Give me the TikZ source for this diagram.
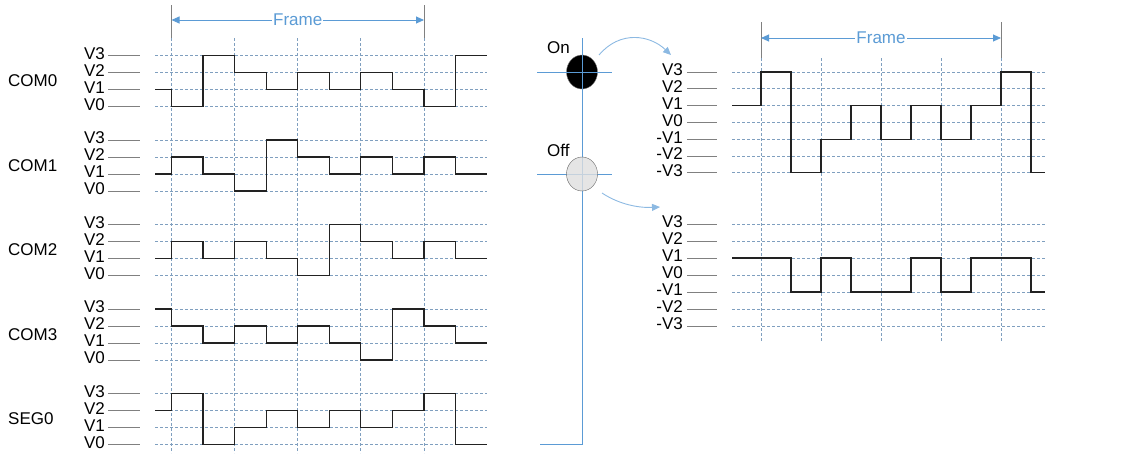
\documentclass[tikz,border=0pt]{standalone}
\usepackage{fontspec}
\setmainfont{Liberation Sans}
\usetikzlibrary{arrows.meta,shapes.geometric}
\definecolor{gridc}{HTML}{7F9FBF}
\definecolor{bluel}{HTML}{5B9BD5}
\definecolor{wavec}{HTML}{222222}
\tikzset{
  grid/.style={gridc,dash pattern=on 3pt off 2pt,line width=0.7pt},
  tick/.style={gray,line width=0.9pt},
  wave/.style={wavec,line width=1.3pt,line join=miter},
  lvl/.style={anchor=east,inner sep=0pt,font=\fontsize{17}{17}\selectfont},
  big/.style={anchor=west,inner sep=0pt,font=\fontsize{17}{17}\selectfont},
  frm/.style={bluel,line width=0.9pt,{Triangle[length=8pt,width=7pt]}-{Triangle[length=8pt,width=7pt]}},
  vline/.style={gray,line width=0.8pt}
}
\begin{document}
\begin{tikzpicture}[x=1pt,y=-1pt]
\useasboundingbox (0,0) rectangle (1121,453);
% left verticals
\foreach \k in {0,...,4}{\draw[grid] ({171.5+\k*63.1},38) -- ({171.5+\k*63.1},453);}
\draw[vline] (171.5,5) -- (171.5,38);
\draw[vline] (424,5) -- (424,38);
\draw[frm] (171.5,20) -- node[fill=white,inner sep=1pt,font=\fontsize{17}{17}\selectfont] (fl) {Frame} (424,20);
% left groups
\foreach \name/\b/\f/\lst in {COM0/55.5/2/{2,3,0,1,2,1,2,1,2,3,0},COM1/140/2/{2,1,2,3,0,1,2,1,2,1,2},COM2/224.5/2/{2,1,2,1,2,3,0,1,2,1,2},COM3/309/0/{0,1,2,1,2,1,2,3,0,1,2},SEG0/393.5/1/{1,0,3,2,1,2,1,2,1,0,3}}{
  \node[big] (n\name) at (8,{\b+25.5}) {\name};
  \foreach \l/\t in {0/V3,1/V2,2/V1,3/V0}{
    \node[lvl] (n\name\t) at (105,{\b+17*\l-2}) {\t};
    \draw[tick] (108,{\b+17*\l}) -- (140,{\b+17*\l});
    \draw[grid] (155,{\b+17*\l}) -- (487,{\b+17*\l});
  }
  \draw[wave] (155,{\b+17*\f}) foreach \l [count=\i] in \lst {
    -- ({\i==1 ? 155 : 171.5+(\i-2)*31.55},{\b+17*\l}) -- ({\i==11 ? 487 : 171.5+(\i-1)*31.55},{\b+17*\l}) };
}
% middle
\draw[bluel,line width=0.9pt] (582,38) -- (582,444) -- (540,444);
\draw[bluel,line width=0.9pt] (537,72) -- (612,72);
\draw[bluel,line width=0.9pt] (537,174) -- (612,174);
\node[draw=gray,fill=black,ellipse,minimum width=31pt,minimum height=34pt,inner sep=0pt] (on) at (582,72) {};
\draw[bluel,line width=0.9pt] (566,72) -- (598,72) (582,55) -- (582,89);
\node[draw=gray!80!black,fill=gray!25,ellipse,minimum width=31pt,minimum height=34pt,inner sep=0pt,fill opacity=0.8] (off) at (582,174) {};
\node[big] (ton) at (547,48) {On};
\node[big] (toff) at (547,150) {Off};
\draw[bluel!70,line width=0.9pt,-{Triangle[length=8pt,width=7pt]}] (599,55) .. controls (620,30) and (650,35) .. (671,55);
\draw[bluel!70,line width=0.9pt,-{Triangle[length=8pt,width=7pt]}] (602,193) .. controls (620,205) and (640,208) .. (660,207);
% right verticals
\foreach \k in {0,...,4}{\draw[grid] ({761+\k*60},58) -- ({761+\k*60},342);}
\draw[vline] (761,22) -- (761,58);
\draw[vline] (1001,22) -- (1001,58);
\draw[frm] (761,38) -- node[fill=white,inner sep=1pt,font=\fontsize{17}{17}\selectfont] (fr) {Frame} (1001,38);
\foreach \g/\b/\s/\lst in {A/72/16.8/{2,0,6,4,2,4,2,4,2,0,6},B/224/17/{2,2,4,2,4,4,2,4,2,2,4}}{
  \foreach \l/\t in {0/V3,1/V2,2/V1,3/V0,4/-V1,5/-V2,6/-V3}{
    \node[lvl] (r\g\t) at (683,{\b+\s*\l-2}) {\t};
    \draw[tick] (687,{\b+\s*\l}) -- (717,{\b+\s*\l});
    \draw[grid] (732,{\b+\s*\l}) -- (1045,{\b+\s*\l});
  }
  \draw[wave] (732,{\b+\s*2}) foreach \l [count=\i] in \lst {
    -- ({\i==1 ? 732 : 761+(\i-2)*30},{\b+\s*\l}) -- ({\i==11 ? 1045 : 761+(\i-1)*30},{\b+\s*\l}) };
}
\end{tikzpicture}
\end{document}
